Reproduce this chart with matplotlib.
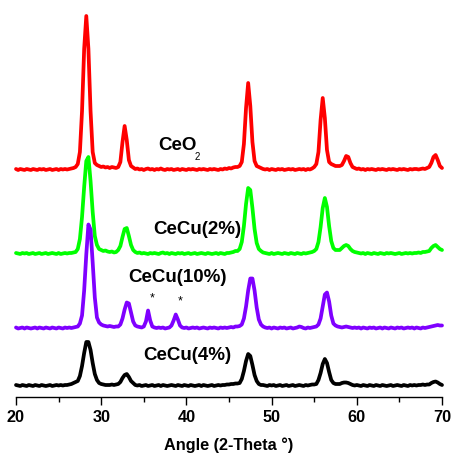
import numpy as np
import matplotlib
matplotlib.use("Agg")
import matplotlib.pyplot as plt
from matplotlib import font_manager
from matplotlib.ticker import MultipleLocator

# 2-theta grid of the scans (degrees)
two_theta = np.arange(20.0, 70.001, 0.25)

# Intensities above each trace's own baseline (a.u.), one row per degree
ceo2 = [
    1, 0, 1, 0.5,  0, 1, 0.5, 0,  1, 0.5, 0, 1,  0.5, 1, 0, 0.5,  1, 0, 0.5, 1,
    0, 1, 0.5, 1,  0.5, 1, 1.5, 2,  3, 6, 18, 59,  121, 154, 121, 59,  18, 7, 5, 4,
    3, 3.5, 2.5, 3,  2, 3, 2.5, 2,  3, 8, 28, 44,  30, 10, 4, 2.5,  1, 1.5, 0.5, 1,
    0, 1, 1.5, 0.5,  1, 0, 1, 0.5,  1.5, 0.5, 0, 1,  0.5, 1, 0, 0.5,  1, 0, 1, 0.5,
    0, 1, 0.5, 1,  0.5, 0, 1, 0.5,  1, 0.5, 0, 1,  0.5, 1, 0.5, 0,  1, 0.5, 1.5, 1,
    2, 1.5, 2.5, 3,  3, 4, 8, 26,  62, 87, 64, 28,  9, 4, 3, 2,  1, 0.5, 1, 0,
    1, 0.5, 0, 1,  0.5, 1, 0, 0.5,  1, 0.5, 1, 0,  0.5, 1, 0.5, 1,  0, 1, 0.5, 1.5,
    3, 6, 18, 50,  72, 52, 20, 8,  6, 5, 4, 4,  4, 5, 9, 14,  13, 7, 3, 2,
    1, 1.5, 0.5, 1,  0, 1, 0.5, 1,  0.5, 0, 1, 0.5,  1, 0.5, 0, 1,  0.5, 1, 0.5, 0,
    1, 0.5, 1, 0.5,  0, 1, 0.5, 1,  1, 0.5, 1, 1.5,  1, 2, 3, 7,  13, 15, 10, 4,
    2,
]
cecu_2 = [
    1, 0.5, 0, 1,  0.5, 1, 0, 0.5,  1, 0, 0.5, 1,  0, 0.5, 1, 0,  0.5, 1, 0.5, 0,
    1, 0, 0.5, 1,  0.5, 1, 1, 1.5,  2, 5, 15, 37,  67, 93, 97, 73,  42, 18, 9, 5,
    4, 3, 3.5, 2.5,  2, 2.5, 1.5, 2,  4, 8, 17, 25,  26, 18, 9, 4,  2, 1, 1.5, 0.5,
    1, 0.5, 0, 1,  0.5, 1, 0.5, 0,  1, 1.5, 0.5, 1,  0, 1, 0.5, 0,  1, 0.5, 1, 0,
    0.5, 1, 0, 0.5,  1, 0, 0.5, 1,  0.5, 0, 1, 0.5,  0, 0.5, 1, 0,  1, 0.5, 0, 1,
    1, 1.5, 2, 3,  3, 5, 12, 28,  50, 66, 64, 46,  25, 11, 5, 3,  1.5, 1, 0.5, 0,
    1, 0, 0.5, 1,  0.5, 0, 1, 0.5,  0, 1, 0.5, 0,  1, 0.5, 0, 1,  0.5, 1, 1.5, 2,
    3, 5, 12, 27,  46, 56, 47, 28,  13, 6, 4, 4,  4, 6, 8, 9,  8, 5, 3, 2,
    1.5, 1, 0.5, 1,  0, 1, 0.5, 0,  1, 0.5, 0, 1,  0.5, 0, 1, 0.5,  1, 0.5, 0, 0.5,
    1, 0, 0.5, 1,  0.5, 1, 0.5, 1,  1, 1.5, 1, 2,  2, 2.5, 3, 6,  8, 9, 7, 5,
    4,
]
cecu_10 = [
    1, 0, 0.5, 1,  0, 1, 0.5, 0,  0.5, 1, 0, 1,  0.5, 0, 1, 0.5,  0, 1, 0.5, 0,
    1, 0.5, 0, 1,  0.5, 1, 0.5, 1,  1.5, 2, 5, 13,  38, 74, 104, 99,  66, 31, 11, 6,
    4, 3, 2.5, 2,  2.5, 2, 1.5, 2,  2, 4, 10, 19,  26, 25, 16, 7,  3, 2, 1.5, 1,
    2, 7, 18, 8,  2, 1, 0.5, 1,  0.5, 1, 0, 0.5,  1, 3, 8, 14,  9, 3, 1, 0.5,
    1, 0, 0.5, 1,  0.5, 1, 0, 0.5,  1, 0.5, 0, 1,  0.5, 1, 0.5, 0,  1, 0.5, 1, 0.5,
    1, 1.5, 1, 2,  2, 2.5, 4, 10,  22, 38, 50, 50,  38, 21, 9, 4,  2, 1, 0.5, 1,
    0, 1, 0.5, 0,  1, 0.5, 1, 0,  0.5, 1, 0, 0.5,  1, 2, 1.5, 0.5,  0, 1, 0.5, 1,
    1.5, 2, 4, 10,  22, 34, 36, 27,  13, 5, 3, 2,  1.5, 1, 1.5, 2,  1.5, 1, 0.5, 1,
    0.5, 1, 0, 1,  0.5, 0, 1, 0.5,  1, 0, 0.5, 1,  0, 1, 0.5, 0,  1, 0.5, 0, 1,
    0.5, 1, 0, 0.5,  1, 0.5, 1, 0,  1, 0.5, 0, 1,  0.5, 1, 1.5, 2,  2.5, 3, 3.5, 3,
    3,
]
cecu_4 = [
    1, 0.5, 0, 1,  0.5, 0, 1, 0.5,  0, 1, 0.5, 0,  1, 0.5, 0, 0.5,  1, 0, 0.5, 1,
    0.5, 1, 0.5, 1,  1, 1.5, 2, 3,  4, 5, 10, 20,  33, 44, 44, 36,  23, 12, 6, 3,
    2, 1.5, 1, 1,  1, 1.5, 1, 1.5,  2, 4, 8, 11,  12, 9, 5, 3,  1, 0.5, 1, 0,
    0.5, 1, 0, 0.5,  1, 0, 0.5, 1,  0, 1, 0.5, 0,  0.5, 1, 0.5, 0,  1, 0.5, 0, 1,
    0.5, 0, 1, 0.5,  0, 0.5, 1, 0,  1, 0.5, 0, 0.5,  1, 0, 0.5, 1,  0.5, 1, 1, 1.5,
    1.5, 2, 2, 2.5,  2.5, 3, 7, 15,  25, 32, 30, 21,  11, 5, 2, 1,  1, 0.5, 0, 1,
    0.5, 1, 0, 0.5,  1, 0, 0.5, 1,  0, 0.5, 1, 0,  0.5, 1, 0.5, 0,  1, 0.5, 1, 1.5,
    1.5, 2, 6, 13,  22, 27, 23, 14,  6, 3, 2, 2,  2, 3, 3.5, 3.5,  3, 2, 1, 0.5,
    1, 0.5, 0, 1,  0.5, 0, 1, 0.5,  0, 1, 0.5, 0,  1, 0.5, 0, 0.5,  1, 0, 0.5, 1,
    0.5, 0, 1, 0.5,  0, 1, 0.5, 1,  0.5, 1, 1, 1.5,  1, 1.5, 1.5, 3,  4, 4.5, 3.5, 2,
    1,
]

# Vertical stacking offsets of the traces (a.u.)
offsets = {"CeCu(4%)": 0, "CeCu(10%)": 57.5, "CeCu(2%)": 132, "CeO2": 216}

# Secondary-phase reflections marked with an asterisk in the 10% sample
star_positions = [35.95, 39.27]
star_heights = [88, 84.3]

# Prefer a condensed sans face when one is available
available = {f.name for f in font_manager.fontManager.ttflist}
narrow = "Liberation Sans Narrow" in available
families = (["Liberation Sans Narrow"] if narrow else []) + ["Liberation Sans", "DejaVu Sans"]
plt.rcParams["font.family"] = families
scale = 1.0 if narrow else 0.9

fig = plt.figure(figsize=(4.52, 4.59), dpi=100)
ax = fig.add_axes([16 / 452, 62 / 459, 426 / 452, 392 / 459])

traces = [
    (ceo2, "CeO2", "#ff0000"),
    (cecu_2, "CeCu(2%)", "#00ff00"),
    (cecu_10, "CeCu(10%)", "#7f00ff"),
    (cecu_4, "CeCu(4%)", "#000000"),
]
for values, name, color in traces:
    ax.plot(two_theta, np.asarray(values) + offsets[name], color=color,
            lw=2.7, solid_joinstyle="round", solid_capstyle="round",
            clip_on=False)

label_kw = dict(fontsize=15 * scale, fontweight="bold", va="center", ha="left")
ax.text(36.69, 240, "CeO", **label_kw)
ax.text(41.0, 229.5, "2", fontsize=7, va="center", ha="left")
ax.text(36.13, 156, "CeCu(2%)", **label_kw)
ax.text(33.2, 109, "CeCu(10%)", **label_kw)
ax.text(34.89, 31, "CeCu(4%)", **label_kw)
for sx, sy in zip(star_positions, star_heights):
    ax.text(sx, sy, "*", fontsize=9, ha="center", va="center",
            family=["Liberation Sans", "DejaVu Sans"])

ax.set_xlim(20, 70)
ax.set_ylim(-11, 381)
for side in ("left", "right", "top"):
    ax.spines[side].set_visible(False)
ax.spines["bottom"].set_linewidth(1.0)
ax.set_yticks([])
ax.xaxis.set_major_locator(MultipleLocator(10))
ax.xaxis.set_minor_locator(MultipleLocator(5))
ax.tick_params(axis="x", which="major", direction="out", length=6, width=1.0,
               labelsize=13 * scale, pad=3)
ax.tick_params(axis="x", which="minor", direction="out", length=3.5, width=1.0)
for lbl in ax.get_xticklabels():
    lbl.set_fontweight("bold")
ax.set_xlabel("Angle (2-Theta °)", fontsize=13 * scale, fontweight="bold",
              labelpad=9)

fig.savefig("out.png", dpi=100, facecolor="white")
